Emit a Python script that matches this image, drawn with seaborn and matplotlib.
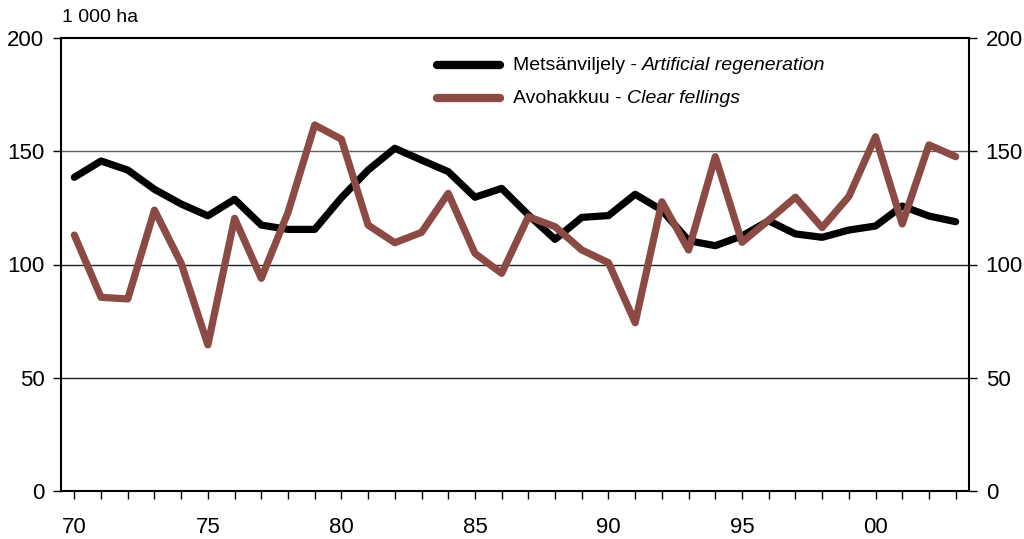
import matplotlib
matplotlib.use("Agg")
import matplotlib.pyplot as plt
import seaborn as sns
import pandas as pd
from matplotlib import font_manager as fm

years = list(range(1970, 2004))
metsanviljely = [138.5, 145.7, 141.7, 133.2, 126.7, 121.5, 128.8, 117.4, 115.5, 115.5,
                 129.5, 141.7, 151.3, 146.1, 141.0, 129.7, 133.6, 121.9, 111.1, 120.8,
                 121.6, 131.0, 124.0, 110.5, 108.3, 112.6, 119.3, 113.5, 112.0, 115.2,
                 117.0, 125.8, 121.4, 118.9]
avohakkuu = [113.0, 85.5, 84.8, 124.0, 100.5, 64.5, 120.4, 93.9, 123.0, 161.6,
             155.3, 117.4, 109.6, 114.2, 131.4, 104.9, 96.1, 121.1, 116.7, 106.4,
             100.8, 74.3, 127.7, 106.4, 147.6, 109.8, 119.6, 129.7, 116.3, 130.0,
             156.4, 117.9, 152.8, 147.6]
labels_fi = ["Metsänviljely - ", "Avohakkuu - "]
labels_en = ["Artificial regeneration", "Clear fellings"]
colors = ["#000000", "#8B4A43"]
xtick_years = [1970, 1975, 1980, 1985, 1990, 1995, 2000]
xtick_labels = ["70", "75", "80", "85", "90", "95", "00"]
yticks = [0, 50, 100, 150, 200]
unit_label = "1 000 ha"

sns.set_theme(style="white")
names = {f.name for f in fm.fontManager.ttflist}
fam = "Liberation Sans Narrow" if "Liberation Sans Narrow" in names else "Liberation Sans"
plt.rcParams["font.family"] = [fam, "DejaVu Sans"]
plt.rcParams["text.color"] = "black"
plt.rcParams["xtick.color"] = "black"
plt.rcParams["ytick.color"] = "black"

df = pd.DataFrame({"year": years * 2,
                   "value": metsanviljely + avohakkuu,
                   "series": [labels_fi[0]] * len(years) + [labels_fi[1]] * len(years)})

fig = plt.figure(figsize=(10.24, 5.39), dpi=100)
ax = fig.add_axes([61 / 1024, 48 / 539, 908 / 1024, 453 / 539])

for y, c in [(50, "#202020"), (100, "#202020"), (150, "#606060")]:
    ax.axhline(y, color=c, lw=1.0, zorder=1)

sns.lineplot(data=df, x="year", y="value", hue="series", palette=colors,
             linewidth=5.2, ax=ax, legend=False, zorder=3)

ax.set_xlim(1969.5, 2003.5)
ax.set_ylim(0, 200)
ax.set_xticks(years, minor=True)
ax.set_xticks(xtick_years)
ax.set_xticklabels(xtick_labels, fontsize=16)
ax.set_yticks(yticks)
ax.set_yticklabels([str(v) for v in yticks], fontsize=16)
ax.set_xlabel("")
ax.set_ylabel("")
ax.tick_params(axis="x", which="both", direction="out", length=6, width=1, color="black",
               labelcolor="black", pad=13, bottom=True)
ax.tick_params(axis="y", direction="out", length=6, width=1, color="black", labelcolor="black",
               left=True, pad=6)
for s in ax.spines.values():
    s.set_color("black")
    s.set_linewidth(1.5)

ax2 = ax.twinx()
ax2.set_ylim(0, 200)
ax2.set_yticks(yticks)
ax2.set_yticklabels([str(v) for v in yticks], fontsize=16)
ax2.tick_params(axis="y", direction="out", length=6, width=1, color="black", labelcolor="black",
                right=True, pad=6)
ax2.grid(False)
for s in ax2.spines.values():
    s.set_visible(False)

fig.text(62 / 1024, 1 - 18 / 539, unit_label, fontsize=14, ha="left", va="center")

# legend (manual, with mixed upright/italic text)
leg_y = [65, 98]
for i in range(2):
    yf = 1 - leg_y[i] / 539
    fig.add_artist(plt.Line2D([437 / 1024, 500 / 1024], [yf, yf], color=colors[i], lw=6,
                              solid_capstyle="round", transform=fig.transFigure))
    t = fig.text(513 / 1024, yf, labels_fi[i], fontsize=14, ha="left", va="center")
    fig.canvas.draw()
    bb = t.get_window_extent()
    fig.text(bb.x1 / fig.bbox.width, yf, labels_en[i], fontsize=14, ha="left", va="center",
             style="italic")

fig.savefig("out.png", dpi=100)
